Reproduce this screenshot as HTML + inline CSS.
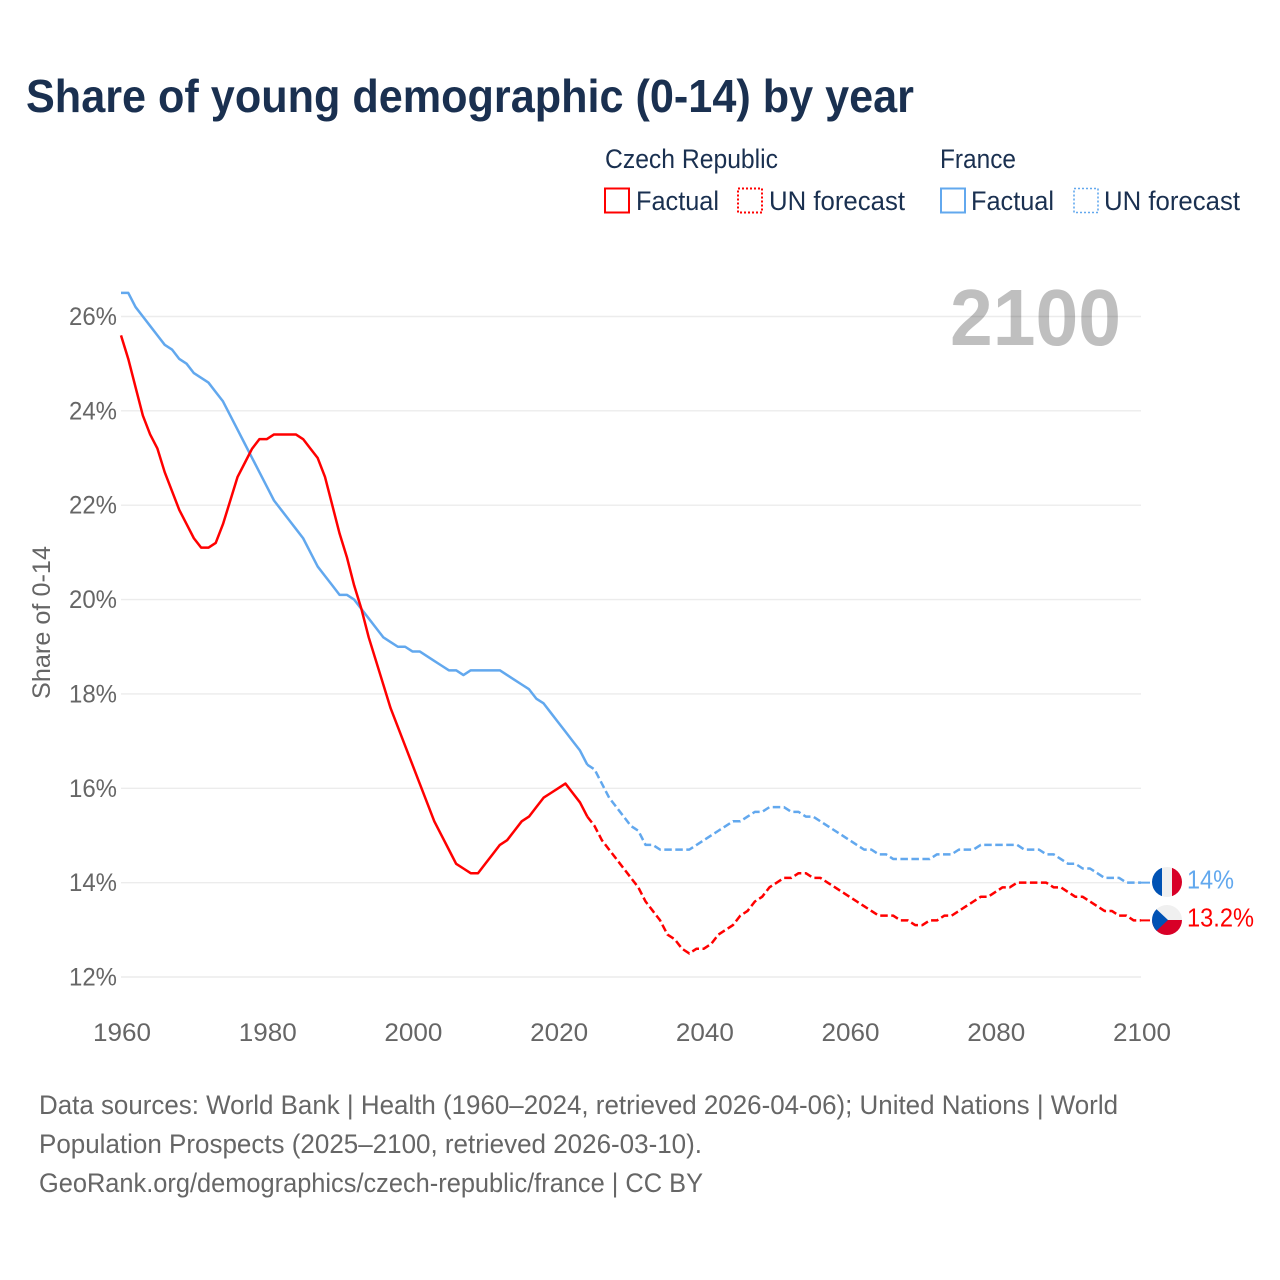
<!DOCTYPE html>
<html lang="en">
<head>
<meta charset="utf-8">
<title>Share of young demographic (0-14) by year</title>
<style>
html,body{margin:0;padding:0;background:#fff;width:1280px;height:1280px;overflow:hidden}
svg{display:block;font-family:"Liberation Sans",sans-serif}
</style>
</head>
<body>
<svg id="chart" width="1280" height="1280" viewBox="0 0 1280 1280" xmlns="http://www.w3.org/2000/svg">
  <defs>
    <clipPath id="clip-fr"><circle cx="1167" cy="882" r="15"/></clipPath>
    <clipPath id="clip-cz"><circle cx="1167" cy="920" r="15"/></clipPath>
  </defs>
  <rect width="1280" height="1280" fill="#fff"/>
  <text x="26" y="112" font-size="46" font-weight="700" fill="#1a3050" textLength="888" lengthAdjust="spacingAndGlyphs">Share of young demographic (0-14) by year</text>

  <g font-size="27" fill="#1a3050">
    <text x="605" y="168" textLength="173" lengthAdjust="spacingAndGlyphs">Czech Republic</text>
    <rect x="605" y="188.5" width="24" height="24" fill="none" stroke="#ff0000" stroke-width="2"/>
    <text x="636" y="210" textLength="83" lengthAdjust="spacingAndGlyphs">Factual</text>
    <rect x="738" y="188.5" width="24" height="24" fill="none" stroke="#ff0000" stroke-width="2" stroke-dasharray="2 2"/>
    <text x="769" y="210" textLength="136" lengthAdjust="spacingAndGlyphs">UN forecast</text>

    <text x="940" y="168" textLength="76" lengthAdjust="spacingAndGlyphs">France</text>
    <rect x="941" y="188.5" width="24" height="24" fill="none" stroke="#62a8ee" stroke-width="2"/>
    <text x="971" y="210" textLength="83" lengthAdjust="spacingAndGlyphs">Factual</text>
    <rect x="1074" y="188.5" width="24" height="24" fill="none" stroke="#62a8ee" stroke-width="1.6" stroke-dasharray="2 2"/>
    <text x="1104" y="210" textLength="136" lengthAdjust="spacingAndGlyphs">UN forecast</text>
  </g>

  <g id="grid"></g>
  <text x="1121" y="345" font-size="80" font-weight="700" fill="#000000" fill-opacity="0.25" text-anchor="end" textLength="171" lengthAdjust="spacingAndGlyphs">2100</text>
  <g id="y-axis"></g>
  <g id="x-axis"></g>
  <text transform="translate(50,622.5) rotate(-90)" font-size="25" fill="#666" text-anchor="middle" textLength="153" lengthAdjust="spacingAndGlyphs">Share of 0-14</text>
  <g id="series"></g>

  <g>
    <g clip-path="url(#clip-fr)">
      <rect x="1152" y="867" width="10" height="30" fill="#0052b4"/>
      <rect x="1162" y="867" width="10" height="30" fill="#f0f0f0"/>
      <rect x="1172" y="867" width="10" height="30" fill="#d80027"/>
    </g>
    <text x="1187" y="888.5" font-size="26" fill="#62a8ee" textLength="47" lengthAdjust="spacingAndGlyphs">14%</text>
  </g>
  <g>
    <g clip-path="url(#clip-cz)">
      <rect x="1152" y="905" width="30" height="15" fill="#f0f0f0"/>
      <rect x="1152" y="920" width="30" height="15" fill="#d80027"/>
      <polygon points="1152,905 1168,920 1152,935" fill="#0052b4"/>
    </g>
    <text x="1187" y="926.5" font-size="26" fill="#ff0000" textLength="67" lengthAdjust="spacingAndGlyphs">13.2%</text>
  </g>

  <g font-size="27" fill="#666">
    <text x="39" y="1114" textLength="1079" lengthAdjust="spacingAndGlyphs">Data sources: World Bank | Health (1960–2024, retrieved 2026-04-06); United Nations | World</text>
    <text x="39" y="1153" textLength="663" lengthAdjust="spacingAndGlyphs">Population Prospects (2025–2100, retrieved 2026-03-10).</text>
    <text x="39" y="1192" textLength="664" lengthAdjust="spacingAndGlyphs">GeoRank.org/demographics/czech-republic/france | CC BY</text>
  </g>
</svg>
<script>
const startYear = 1960;
const lastFactualYear = 2024;
const yTickValues = [12, 14, 16, 18, 20, 22, 24, 26];
const xTickValues = [1960, 1980, 2000, 2020, 2040, 2060, 2080, 2100];
const franceValues = [
  26.5,26.5,26.2,26.0,25.8,25.6,25.4,25.3,25.1,25.0,
  24.8,24.7,24.6,24.4,24.2,23.9,23.6,23.3,23.0,22.7,
  22.4,22.1,21.9,21.7,21.5,21.3,21.0,20.7,20.5,20.3,
  20.1,20.1,20.0,19.8,19.6,19.4,19.2,19.1,19.0,19.0,
  18.9,18.9,18.8,18.7,18.6,18.5,18.5,18.4,18.5,18.5,
  18.5,18.5,18.5,18.4,18.3,18.2,18.1,17.9,17.8,17.6,
  17.4,17.2,17.0,16.8,16.5,16.4,16.1,15.8,15.6,15.4,
  15.2,15.1,14.8,14.8,14.7,14.7,14.7,14.7,14.7,14.8,
  14.9,15.0,15.1,15.2,15.3,15.3,15.4,15.5,15.5,15.6,
  15.6,15.6,15.5,15.5,15.4,15.4,15.3,15.2,15.1,15.0,
  14.9,14.8,14.7,14.7,14.6,14.6,14.5,14.5,14.5,14.5,
  14.5,14.5,14.6,14.6,14.6,14.7,14.7,14.7,14.8,14.8,
  14.8,14.8,14.8,14.8,14.7,14.7,14.7,14.6,14.6,14.5,
  14.4,14.4,14.3,14.3,14.2,14.1,14.1,14.1,14.0,14.0,14.0
];
const czechValues = [
  25.6,25.1,24.5,23.9,23.5,23.2,22.7,22.3,21.9,21.6,
  21.3,21.1,21.1,21.2,21.6,22.1,22.6,22.9,23.2,23.4,
  23.4,23.5,23.5,23.5,23.5,23.4,23.2,23.0,22.6,22.0,
  21.4,20.9,20.3,19.8,19.2,18.7,18.2,17.7,17.3,16.9,
  16.5,16.1,15.7,15.3,15.0,14.7,14.4,14.3,14.2,14.2,
  14.4,14.6,14.8,14.9,15.1,15.3,15.4,15.6,15.8,15.9,
  16.0,16.1,15.9,15.7,15.4,15.2,14.9,14.7,14.5,14.3,
  14.1,13.9,13.6,13.4,13.2,12.9,12.8,12.6,12.5,12.6,
  12.6,12.7,12.9,13.0,13.1,13.3,13.4,13.6,13.7,13.9,
  14.0,14.1,14.1,14.2,14.2,14.1,14.1,14.0,13.9,13.8,
  13.7,13.6,13.5,13.4,13.3,13.3,13.3,13.2,13.2,13.1,
  13.1,13.2,13.2,13.3,13.3,13.4,13.5,13.6,13.7,13.7,
  13.8,13.9,13.9,14.0,14.0,14.0,14.0,14.0,13.9,13.9,
  13.8,13.7,13.7,13.6,13.5,13.4,13.4,13.3,13.3,13.2,13.2
];

const SVG_NS = 'http://www.w3.org/2000/svg';
const xScale = year => 121 + (year - 1960) * (1141 - 121) / 140;
const yScale = value => 977 - (value - 12) * (977 - 316.5) / 14;

function svgEl(tag, attrs, parent) {
  const el = document.createElementNS(SVG_NS, tag);
  Object.keys(attrs).forEach(k => el.setAttribute(k, attrs[k]));
  parent.appendChild(el);
  return el;
}

const gridGroup = document.getElementById('grid');
const yAxisGroup = document.getElementById('y-axis');
const xAxisGroup = document.getElementById('x-axis');
const seriesGroup = document.getElementById('series');

yTickValues.forEach(v => {
  const line = svgEl('line', {x1: xScale(1960), x2: xScale(2100), y1: yScale(v), y2: yScale(v), stroke: '#ececec', 'stroke-width': 1.4}, gridGroup);
  
  
  const label = svgEl('text', {x: 117, y: yScale(v) + 8.5, 'font-size': 25, fill: '#666', 'text-anchor': 'end', textLength: 48, lengthAdjust: 'spacingAndGlyphs'}, yAxisGroup);
  
  
  label.textContent = v + '%';
});

xTickValues.forEach(y => {
  const label = svgEl('text', {x: xScale(y) + 1, y: 1041, 'font-size': 25, fill: '#666', 'text-anchor': 'middle', textLength: 58, lengthAdjust: 'spacingAndGlyphs'}, xAxisGroup);
  
  
  label.textContent = y;
});

function drawSeries(values, color, key) {
  const toPoint = (v, i) => xScale(startYear + i).toFixed(2) + ',' + yScale(v).toFixed(2);
  const splitIndex = lastFactualYear - startYear;
  const factual = values.slice(0, splitIndex + 1).map((v, i) => toPoint(v, i));
  const forecast = values.slice(splitIndex).map((v, i) => toPoint(v, i + splitIndex));
  const solid = svgEl('polyline', {points: factual.join(' '), fill: 'none', stroke: color, 'stroke-width': 2.5, 'stroke-linejoin': 'round'}, seriesGroup);
  
  
  const dashed = svgEl('polyline', {points: forecast.join(' '), fill: 'none', stroke: color, 'stroke-width': 2.5, 'stroke-linejoin': 'round', 'stroke-dasharray': '7.5 3.5'}, seriesGroup);
  
  
  const lastY = yScale(values[values.length - 1]);
  const connector = svgEl('line', {x1: xScale(2100), x2: xScale(2100) + 9, y1: lastY, y2: lastY, stroke: color, 'stroke-width': 2}, seriesGroup);
  
  
}

drawSeries(franceValues, '#62a8ee', 'france');
drawSeries(czechValues, '#ff0000', 'czech');
</script>
</body>
</html>
